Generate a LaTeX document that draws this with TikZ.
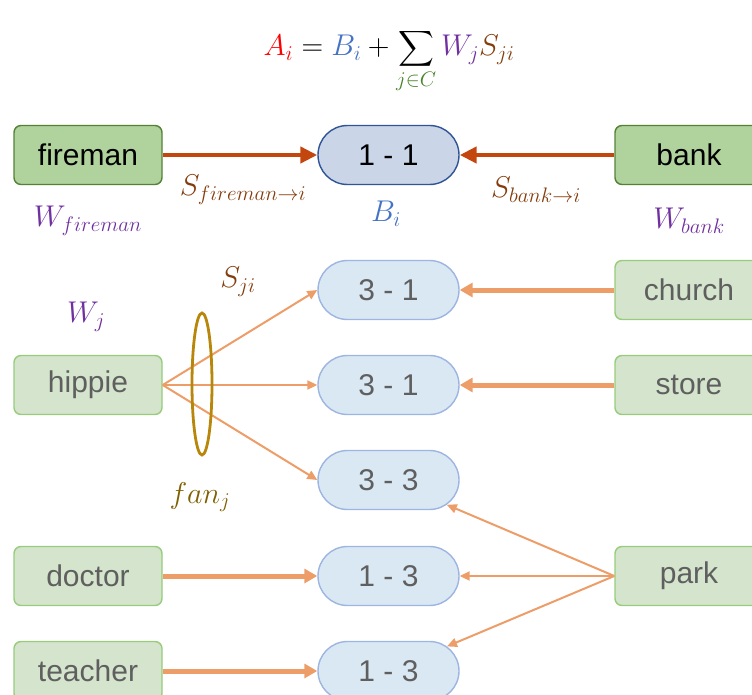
\RequirePackage{fix-cm}
\documentclass[tikz,border=0pt]{standalone}
\usepackage{exscale}
\usepackage{fontspec}
\setmainfont{Liberation Sans}
\usetikzlibrary{shapes.misc,arrows.meta}
\definecolor{topfill}{RGB}{176,211,158}
\definecolor{topdraw}{RGB}{84,130,53}
\definecolor{toppillfill}{RGB}{202,213,232}
\definecolor{toppilldraw}{RGB}{47,85,151}
\definecolor{lowfill}{RGB}{213,228,204}
\definecolor{lowdraw}{RGB}{150,204,124}
\definecolor{lowpillfill}{RGB}{218,232,244}
\definecolor{lowpilldraw}{RGB}{157,181,224}
\definecolor{lowtext}{RGB}{95,95,95}
\definecolor{darkarrow}{RGB}{195,70,15}
\definecolor{lightarrow}{RGB}{237,157,104}
\definecolor{wpurple}{RGB}{112,48,160}
\definecolor{sbrown}{RGB}{132,60,12}
\definecolor{bblue}{RGB}{68,114,196}
\definecolor{fanbrown}{RGB}{127,96,0}
\definecolor{ellgold}{RGB}{184,134,11}
\definecolor{cgreen}{RGB}{70,130,40}
\tikzset{
  boxbase/.style={rectangle, rounded corners=7pt, line width=1.4pt, minimum width=148pt, minimum height=59pt, inner sep=0pt, font=\fontsize{30}{32}\selectfont},
  topbox/.style={boxbase, fill=topfill, draw=topdraw, text=black},
  lowbox/.style={boxbase, fill=lowfill, draw=lowdraw, text=lowtext},
  pillbase/.style={rounded rectangle, line width=1.4pt, minimum width=141pt, minimum height=59pt, inner sep=0pt, font=\fontsize{30}{32}\selectfont},
  toppill/.style={pillbase, fill=toppillfill, draw=toppilldraw, text=black},
  lowpill/.style={pillbase, fill=lowpillfill, draw=lowpilldraw, text=lowtext},
  darkarr/.style={draw=darkarrow, line width=4.5pt, -{Triangle[length=17pt,width=16pt]}},
  thickarr/.style={draw=lightarrow, line width=5pt, -{Triangle[length=13pt,width=14pt]}},
  thinarr/.style={draw=lightarrow, line width=2pt, -{Triangle[length=10pt,width=9pt]}},
  mlabel/.style={inner sep=0pt, font=\fontsize{30}{32}\selectfont},
}
\begin{document}
\begin{tikzpicture}[x=1pt,y=-1pt]
\useasboundingbox (0,0) rectangle (752,695);
\clip (0,0) rectangle (752,695);
% formula
\node[inner sep=0pt, font=\fontsize{30}{34}\selectfont, anchor=base] (formula) at (389,56)
  {$\displaystyle {\color{red}A_i} = {\color{bblue}B_i} + \sum_{\color{cgreen} j\in C} {\color{wpurple}W_j}{\color{sbrown}S_{ji}}$};
% top row
\node[topbox] (fireman) at (88,155) {fireman};
\node[toppill] (p11) at (388.5,155) {1 - 1};
\node[topbox] (bank) at (689,155) {bank};
\draw[darkarr] (fireman.east) -- (p11.west);
\draw[darkarr] (bank.west) -- (p11.east);
\node[mlabel, text=wpurple] (wf) at (88,221) {$W_{fireman}$};
\node[mlabel, text=sbrown] (sf) at (243,190) {$S_{fireman\rightarrow i}$};
\node[mlabel, text=bblue] (bi) at (386,214) {$B_i$};
\node[mlabel, text=sbrown] (sb) at (536,190) {$S_{bank\rightarrow i}$};
\node[mlabel, text=wpurple] (wb) at (689,221) {$W_{bank}$};
% pills
\node[lowpill] (pa) at (388.5,290) {3 - 1};
\node[lowpill] (pb) at (388.5,385) {3 - 1};
\node[lowpill] (pc) at (388.5,480) {3 - 3};
\node[lowpill] (pd) at (388.5,576) {1 - 3};
\node[lowpill] (pe) at (388.5,671) {1 - 3};
% left boxes
\node[lowbox] (hippie) at (88,385) {hippie};
\node[lowbox] (doctor) at (88,576) {doctor};
\node[lowbox] (teacher) at (88,671) {teacher};
% right boxes
\node[lowbox] (church) at (689,290) {church};
\node[lowbox] (store) at (689,385) {store};
\node[lowbox] (park) at (689,576) {park};
% arrows
\draw[thinarr] (hippie.east) -- (pa.west);
\draw[thinarr] (hippie.east) -- (pb.west);
\draw[thinarr] (hippie.east) -- (pc.west);
\draw[thickarr] (church.west) -- (pa.east);
\draw[thickarr] (store.west) -- (pb.east);
\draw[thickarr] (doctor.east) -- (pd.west);
\draw[thickarr] (teacher.east) -- (pe.west);
\draw[thinarr] (park.west) -- (pc);
\draw[thinarr] (park.west) -- (pd.east);
\draw[thinarr] (park.west) -- (pe);
% ellipse
\draw[ellgold, line width=2.8pt] (202,384) ellipse [x radius=10, y radius=71];
\node[mlabel, text=wpurple] (wj) at (86,317) {$W_j$};
\node[mlabel, text=sbrown] (sji) at (238,282) {$S_{ji}$};
\node[mlabel, text=fanbrown] (fanj) at (200,497) {$fan_j$};
\end{tikzpicture}
\end{document}
